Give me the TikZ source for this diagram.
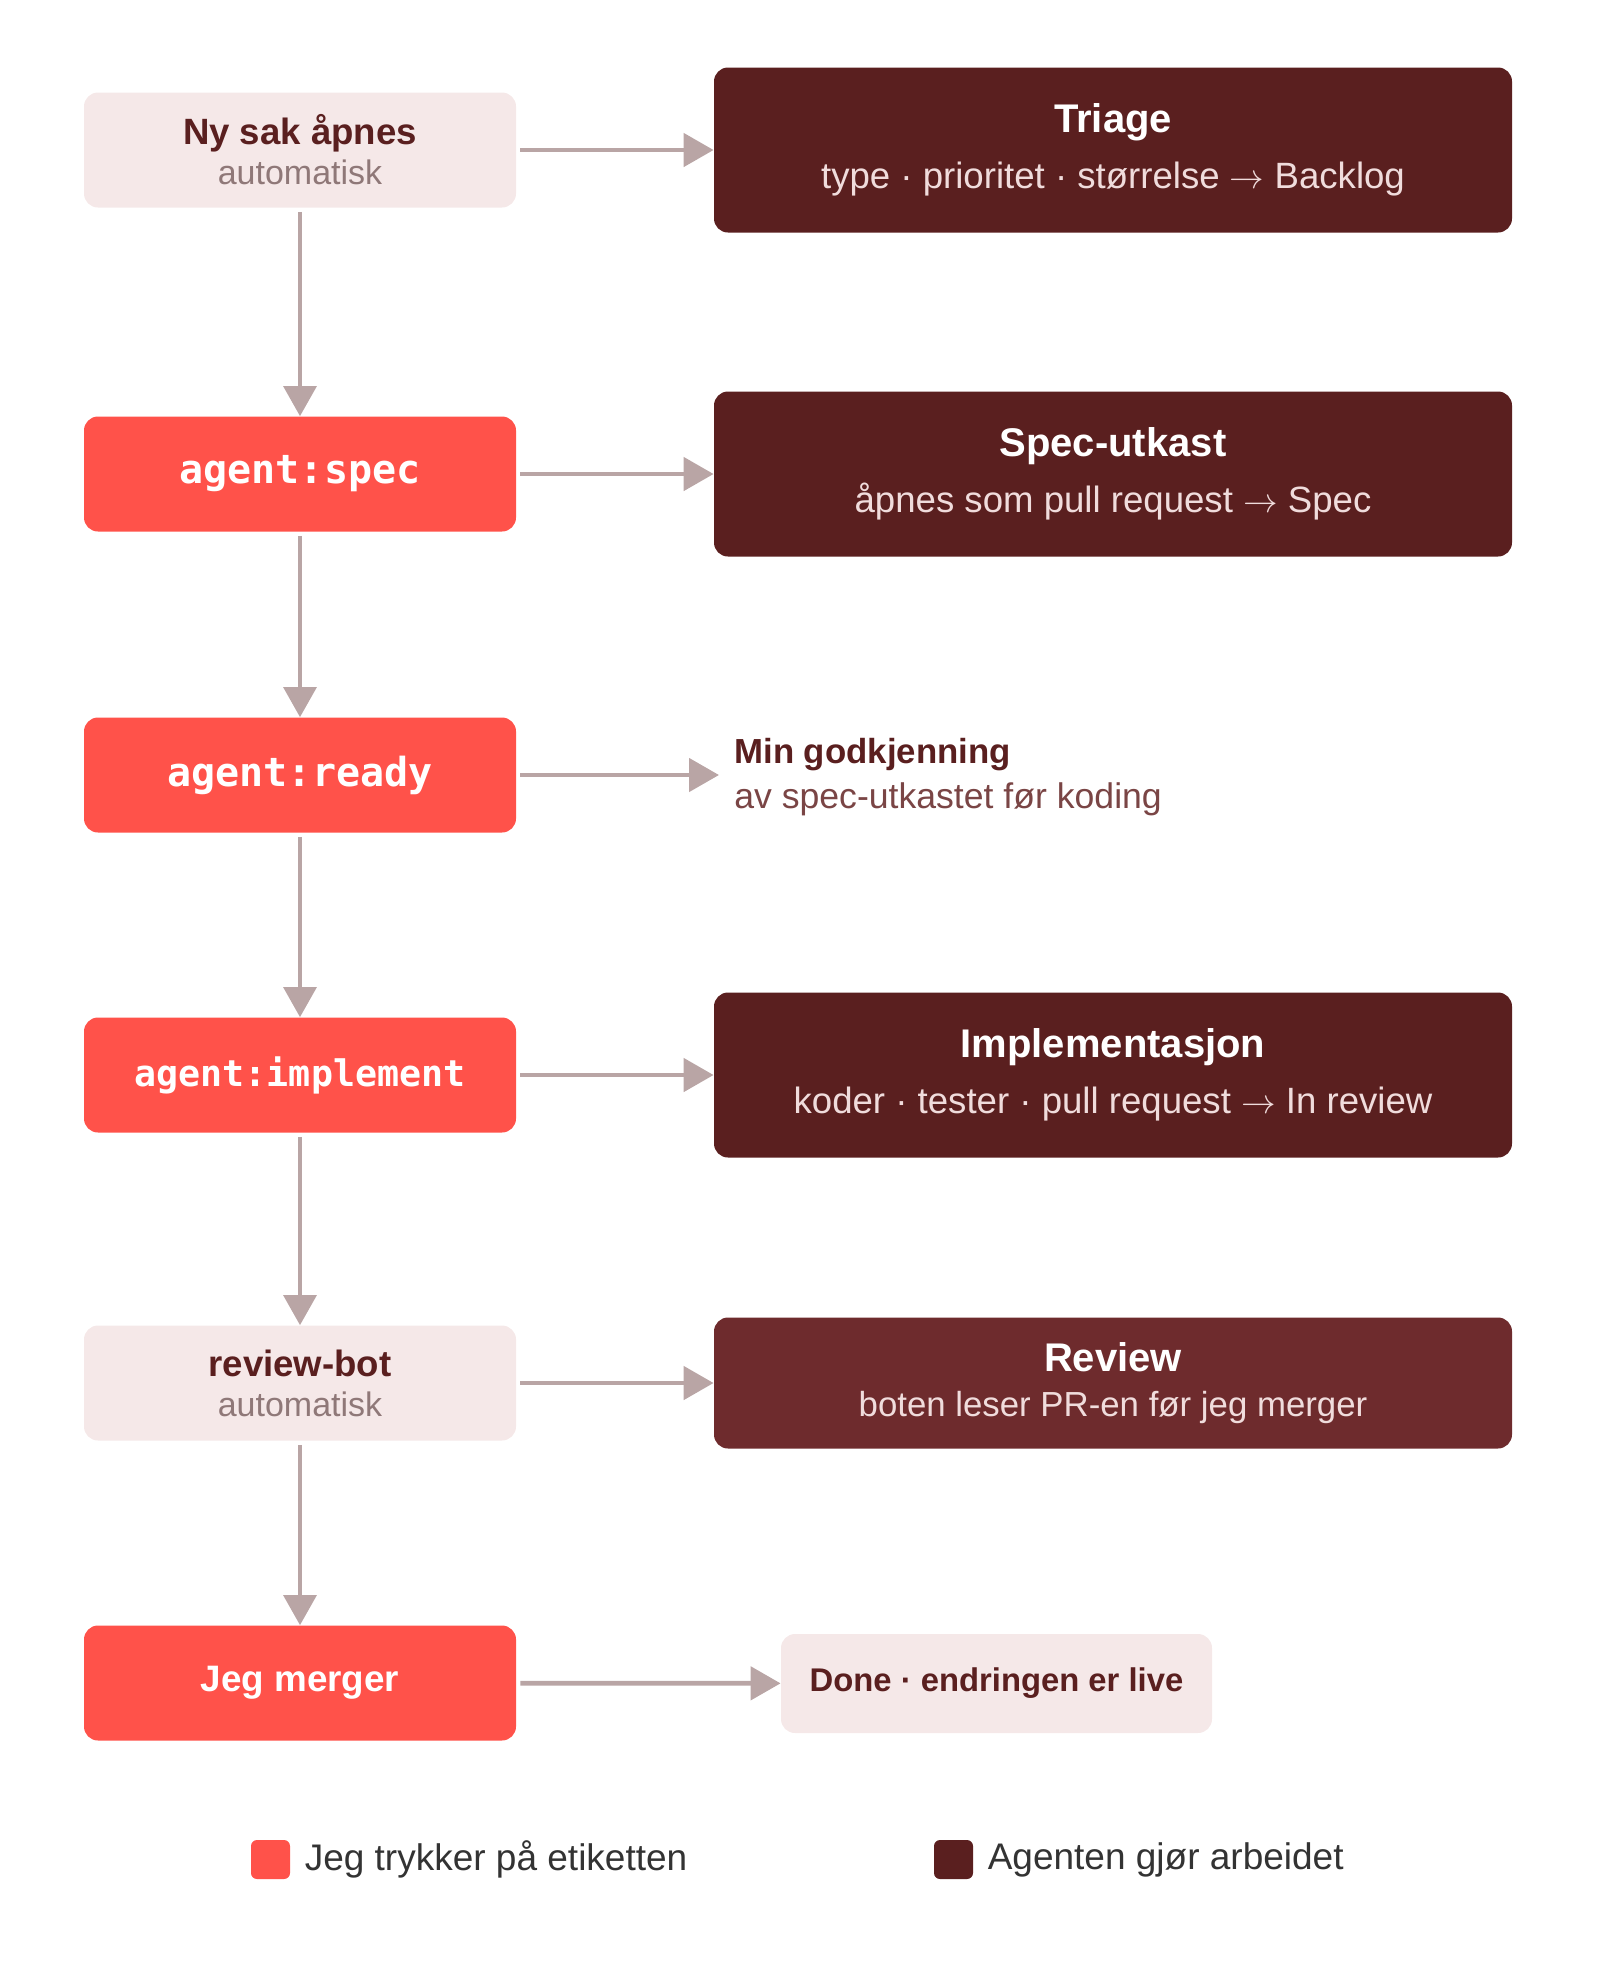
\documentclass[tikz,border=0pt]{standalone}
\usepackage{fontspec}
\setmainfont{Liberation Sans}
\newfontfamily\labelmono{DejaVu Sans Mono}
\definecolor{labelred}{RGB}{255, 82, 74}
\definecolor{agentdark}{RGB}{90, 31, 31}
\definecolor{reviewdark}{RGB}{110, 43, 45}
\definecolor{palepink}{RGB}{245, 232, 232}
\definecolor{flowgrey}{RGB}{185, 165, 165}
\definecolor{inktext}{RGB}{90, 31, 31}
\definecolor{mutedtext}{RGB}{143, 120, 120}
\definecolor{softpink}{RGB}{240, 220, 220}
\definecolor{notetext}{RGB}{122, 69, 69}
\definecolor{legendtext}{RGB}{51, 51, 51}
\usetikzlibrary{arrows.meta, positioning}

\newcommand{\goesto}{$\rightarrow$}

\tikzset{
  trigger/.style={rounded corners=7pt, minimum width=216pt, minimum height=57.5pt,
    inner sep=0pt, align=center},
  autobox/.style={trigger, fill=palepink, font=\fontsize{18}{20}\selectfont},
  labelbox/.style={trigger, fill=labelred, text=white},
  agentbox/.style={rounded corners=7pt, fill=agentdark, minimum width=399pt,
    minimum height=82.5pt, inner sep=0pt, align=center, text=white,
    font=\fontsize{19}{28}\selectfont},
  flow/.style={draw=flowgrey, line width=2.4pt, shorten <=2pt,
    -{Triangle[length=15pt, width=16.5pt]}},
  down/.style={flow, line width=1.6pt},
  swatch/.style={rounded corners=3pt, minimum size=19.5pt, inner sep=0pt},
}

\begin{document}
\begin{tikzpicture}[x=0.5pt, y=-0.5pt]
  \useasboundingbox (0,0) rectangle (1600,1967);

  % Left column: what starts each step
  \node[autobox] (new) at (300,150)
    {{\fontsize{18.3}{20}\selectfont\bfseries\color{inktext}Ny sak åpnes}\\
     {\fontsize{17}{20}\selectfont\color{mutedtext}automatisk}};
  \node[labelbox, font=\labelmono\bfseries\fontsize{20}{24}\selectfont] (spec) at (300,474) {agent:spec};
  \node[labelbox, font=\labelmono\bfseries\fontsize{20}{24}\selectfont] (ready) at (300,775) {agent:ready};
  \node[labelbox, font=\labelmono\bfseries\fontsize{18.3}{22}\selectfont] (impl) at (300,1075) {agent:implement};
  \node[autobox] (bot) at (300,1383)
    {{\fontsize{18.3}{20}\selectfont\bfseries\color{inktext}review-bot}\\
     {\fontsize{17}{20}\selectfont\color{mutedtext}automatisk}};
  \node[labelbox, font=\bfseries\fontsize{18.4}{22}\selectfont] (merge) at (300,1683) {Jeg merger};

  % Right column: what happens
  \node[agentbox] (triage) at (1113,150)
    {{\fontsize{20}{28}\selectfont\bfseries Triage}\\
     {\fontsize{18.3}{28}\selectfont\color{softpink}type · prioritet · størrelse \goesto{} Backlog}};
  \node[agentbox] (draft) at (1113,474)
    {{\fontsize{20}{28}\selectfont\bfseries Spec-utkast}\\
     {\fontsize{18.3}{28}\selectfont\color{softpink}åpnes som pull request \goesto{} Spec}};
  \node[anchor=west, align=left, inner sep=0pt, font=\fontsize{17.5}{22.5}\selectfont] (approval) at (734,777)
    {{\fontsize{17.4}{22.5}\selectfont\bfseries\color{inktext}Min godkjenning}\\
     {\fontsize{17.8}{22.5}\selectfont\color{notetext}av spec-utkastet før koding}};
  \node[agentbox] (build) at (1113,1075)
    {{\fontsize{20}{28}\selectfont\bfseries Implementasjon}\\
     {\fontsize{18.3}{28}\selectfont\color{softpink}koder · tester · pull request \goesto{} In review}};
  \node[agentbox, fill=reviewdark, minimum height=65.5pt, font=\fontsize{18}{22.5}\selectfont] (review) at (1113,1383)
    {{\fontsize{20}{22.5}\selectfont\bfseries Review}\\
     {\fontsize{17.4}{22.5}\selectfont\color{softpink}boten leser PR-en før jeg merger}};
  \node[rounded corners=7pt, fill=palepink, minimum width=215.5pt, minimum height=49.5pt,
    font=\bfseries\fontsize{16.4}{20}\selectfont, text=inktext] (done) at (996.5,1683.5)
    {Done · endringen er live};

  % Down the left column
  \draw[down] (new) -- (spec);
  \draw[down] (spec) -- (ready);
  \draw[down] (ready) -- (impl);
  \draw[down] (impl) -- (bot);
  \draw[down] (bot) -- (merge);

  % Across to the right
  \draw[flow] (new) -- (triage);
  \draw[flow] (spec) -- (draft);
  \draw[flow, shorten >=7.5pt] (ready) -- (ready -| approval.west);
  \draw[flow] (impl) -- (build);
  \draw[flow] (bot) -- (review);
  \draw[flow] (merge) -- (done);

  % Legend
  \node[swatch, fill=labelred] (keyred) at (270.5,1859.5) {};
  \node[right=7pt of keyred, inner sep=0pt, text=legendtext, font=\fontsize{18.5}{22}\selectfont] (keyredtext) {Jeg trykker på etiketten};
  \node[swatch, fill=agentdark] (keydark) at (953.5,1859.5) {};
  \node[right=7pt of keydark, inner sep=0pt, text=legendtext, font=\fontsize{18.5}{22}\selectfont] (keydarktext) {Agenten gjør arbeidet};
\end{tikzpicture}
\end{document}
